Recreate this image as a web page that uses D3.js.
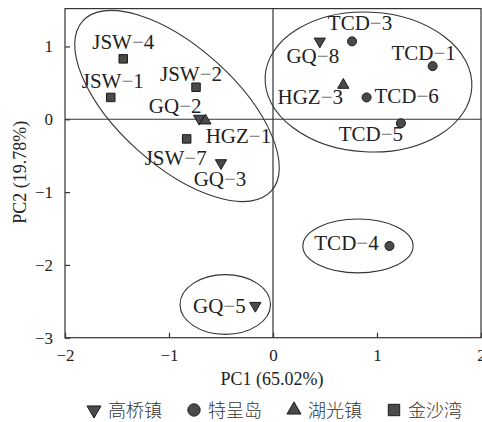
<!DOCTYPE html>
<html>
<head>
<meta charset="utf-8">
<script src="https://cdn.jsdelivr.net/npm/d3@7"></script>
<style>
  body { margin: 0; background: #fff; }
  svg { display: block; }
</style>
</head>
<body>
<script>
// sample scores on the first two principal components
var samples = ["JSW−4", "JSW−1", "JSW−2", "JSW−7", "GQ−2", "HGZ−1", "GQ−3",
               "GQ−8", "TCD−3", "TCD−1", "HGZ−3", "TCD−6", "TCD−5", "TCD−4", "GQ−5"];
var pc1 = [-1.44, -1.56, -0.74, -0.83, -0.71, -0.65, -0.50,
            0.45,  0.76,  1.535, 0.676, 0.90,  1.23,  1.12, -0.17];
var pc2 = [ 0.83,  0.30,  0.44, -0.27,  0.01, -0.02, -0.60,
            1.07,  1.07,  0.73,  0.47,  0.30, -0.055, -1.74, -2.56];
var group = [3, 3, 3, 3, 0, 2, 0, 0, 1, 1, 2, 1, 1, 1, 0];

// legend groups
var groupNames = ["高桥镇", "特呈岛", "湖光镇", "金沙湾"];

// axis ticks
var xTicks = [-2, -1, 0, 1, 2];
var yTicks = [-3, -2, -1, 0, 1];

// cluster ellipses (centre in PC units, radii in PC1 / PC2 units, tilt in degrees)
var ellCx = [-0.923, 0.918, 0.817, -0.459];
var ellCy = [ 0.182, 0.512, -1.74, -2.544];
var ellRx = [ 1.221, 0.995, 0.53, 0.435];
var ellRy = [ 0.81,  0.96,  0.37, 0.41];
var ellRot = [42, 3, 0, 0];

// label placement (pixels from the marker)
var labelDx = [0, 2, -5, -11, -24, 33, -1, -7, 8, -9, -33, 40, -30, -43, -36];
var labelDy = [-10, -9, -6, 26, -6, 22, 23, 22, -11, -6, 19, 6, 18, 4, 7];

var width = 482, height = 422;
var padL = 65, padR = 481, padT = 8.6, padB = 337.7;

var svg = d3.select("body").append("svg")
    .attr("width", width)
    .attr("height", height);

var x = d3.scaleLinear().domain([-2, 2]).range([padL, padR]);
var y = d3.scaleLinear().domain([-3, 1.52]).range([padB, padT]);
var pxX = x(1) - x(0), pxY = y(0) - y(1);

var shapes = [d3.symbolTriangle, d3.symbolCircle, d3.symbolTriangle, d3.symbolSquare];
var flip = [180, 0, 0, 0];
var markSize = [55, 64, 55, 72];
var legSize = [85, 120, 85, 130];

// frame
svg.append("rect")
    .attr("x", padL).attr("y", padT)
    .attr("width", padR - padL).attr("height", padB - padT)
    .attr("fill", "none").attr("stroke", "#333").attr("stroke-width", 1.2);

// zero lines
svg.append("line")
    .attr("x1", padL).attr("x2", padR)
    .attr("y1", y(0)).attr("y2", y(0))
    .attr("stroke", "#333").attr("stroke-width", 1.2);
svg.append("line")
    .attr("x1", x(0)).attr("x2", x(0))
    .attr("y1", padT).attr("y2", padB)
    .attr("stroke", "#333").attr("stroke-width", 1.2);

// axes
svg.append("g")
    .attr("transform", "translate(0," + padB + ")")
    .call(d3.axisBottom(x).tickValues(xTicks).tickSizeInner(-5).tickSizeOuter(0).tickPadding(11)
        .tickFormat(d3.format("d")));
svg.append("g")
    .attr("transform", "translate(" + padL + ",0)")
    .call(d3.axisLeft(y).tickValues(yTicks).tickSizeInner(-5).tickSizeOuter(0).tickPadding(12)
        .tickFormat(d3.format("d")));
svg.selectAll(".domain").remove();
svg.selectAll(".tick line").attr("stroke", "#333").attr("stroke-width", 1.2);
svg.selectAll(".tick text")
    .attr("font-family", "Liberation Serif, Times New Roman, serif")
    .attr("font-size", 17)
    .attr("fill", "#222");

// axis titles
svg.append("text")
    .attr("x", (padL + padR) / 2 - 1).attr("y", 385)
    .attr("text-anchor", "middle")
    .attr("font-family", "Liberation Serif, Times New Roman, serif")
    .attr("font-size", 18).attr("fill", "#222")
    .text("PC1 (65.02%)");
svg.append("text")
    .attr("transform", "translate(26," + ((padT + padB) / 2 - 1) + ") rotate(-90)")
    .attr("text-anchor", "middle")
    .attr("font-family", "Liberation Serif, Times New Roman, serif")
    .attr("font-size", 18).attr("fill", "#222")
    .text("PC2 (19.78%)");

// ellipses
svg.selectAll(".ell")
    .data(ellCx)
    .enter().append("ellipse")
    .attr("class", "ell")
    .attr("transform", function(d, i) {
        return "translate(" + x(d) + "," + y(ellCy[i]) + ") rotate(" + ellRot[i] + ")";
    })
    .attr("rx", function(d, i) { return ellRx[i] * pxX; })
    .attr("ry", function(d, i) { return ellRy[i] * pxY; })
    .attr("fill", "none").attr("stroke", "#333").attr("stroke-width", 1.1);

// markers
svg.selectAll(".pt")
    .data(samples)
    .enter().append("path")
    .attr("class", "pt")
    .attr("d", function(d, i) { return d3.symbol(shapes[group[i]], markSize[group[i]])(); })
    .attr("transform", function(d, i) {
        return "translate(" + x(pc1[i]) + "," + y(pc2[i]) + ") rotate(" + flip[group[i]] + ")";
    })
    .attr("fill", "#4a4a4a").attr("stroke", "#1a1a1a").attr("stroke-width", 1);

// sample labels, dash drawn lighter as in the print
var lab = svg.selectAll(".lab")
    .data(samples)
    .enter().append("text")
    .attr("class", "lab")
    .attr("x", function(d, i) { return x(pc1[i]) + labelDx[i]; })
    .attr("y", function(d, i) { return y(pc2[i]) + labelDy[i]; })
    .attr("text-anchor", "middle")
    .attr("font-family", "Liberation Serif, Times New Roman, serif")
    .attr("font-size", 21).attr("fill", "#222");
lab.each(function(d) {
    var parts = d.split("−");
    var t = d3.select(this);
    t.append("tspan").text(parts[0]);
    t.append("tspan").attr("fill", "#777").text("−");
    t.append("tspan").text(parts[1]);
});

// legend
var leg = svg.selectAll(".leg")
    .data(groupNames)
    .enter().append("g")
    .attr("class", "leg")
    .attr("transform", function(d, i) { return "translate(" + (94 + i * 100) + ",410)"; });
leg.append("path")
    .attr("d", function(d, i) { return d3.symbol(shapes[i], legSize[i])(); })
    .attr("transform", function(d, i) { return "rotate(" + flip[i] + ")"; })
    .attr("fill", "#4a4a4a").attr("stroke", "#1a1a1a").attr("stroke-width", 1);
leg.append("text")
    .attr("x", 14).attr("y", 7)
    .attr("font-family", "Noto Sans CJK SC, sans-serif")
    .attr("font-weight", 300)
    .attr("font-size", 18).attr("fill", "#333")
    .text(function(d) { return d; });
</script>
</body>
</html>
